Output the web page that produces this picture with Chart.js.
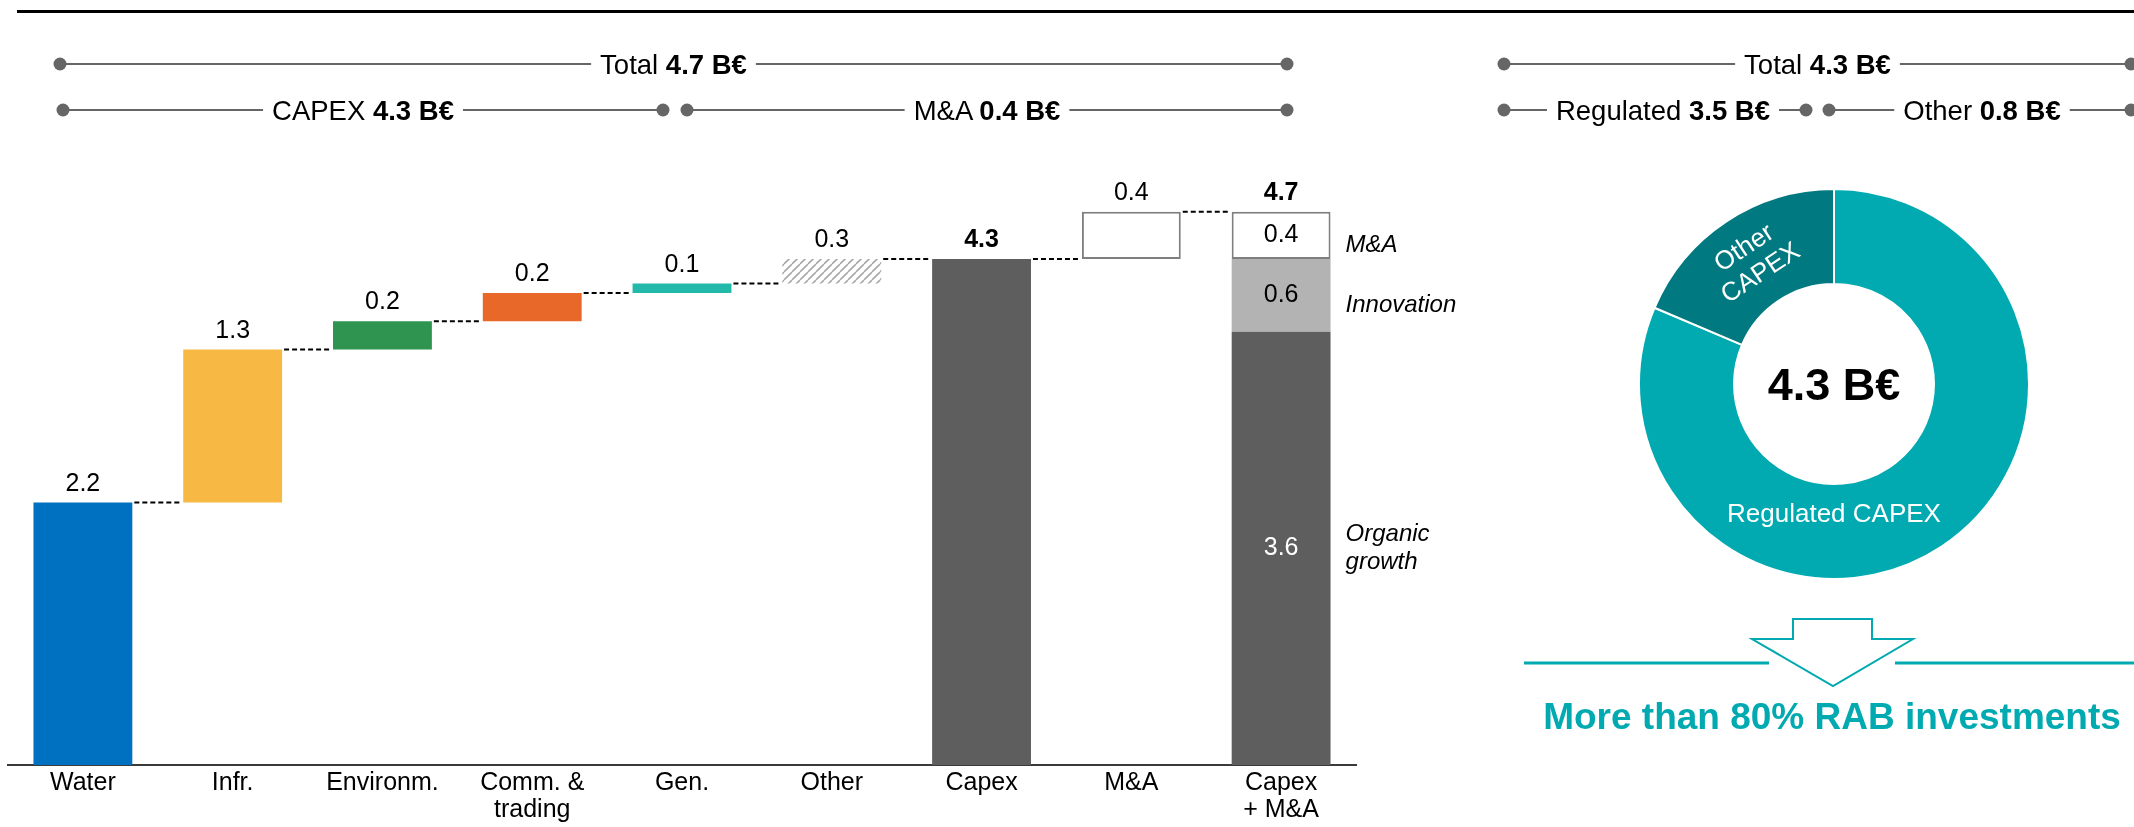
<!DOCTYPE html>
<html>
<head>
<meta charset="utf-8">
<script src="https://cdn.jsdelivr.net/npm/chart.js@4.4.1/dist/chart.umd.min.js"></script>
<style>
  html, body { margin: 0; padding: 0; background: #fff; }
  body { width: 2134px; height: 827px; position: relative; overflow: hidden; font-family: "Liberation Sans", Arial, sans-serif; }
  #waterfallBox { position: absolute; left: 0; top: 0; width: 1500px; height: 827px; }
  #donutBox { position: absolute; left: 1634px; top: 184px; width: 400px; height: 400px; }
  #notes { position: absolute; left: 0; top: 0; pointer-events: none; }
  #notes text { white-space: pre; font-family: "Liberation Sans", Arial, sans-serif; }
</style>
</head>
<body>
<div id="waterfallBox"><canvas id="waterfall"></canvas></div>
<div id="donutBox"><canvas id="donut"></canvas></div>
<svg id="notes" width="2134" height="827" xmlns="http://www.w3.org/2000/svg"></svg>

<script>
// --- data ---
const categories = ['Water', 'Infr.', 'Environm.', ['Comm. &', 'trading'], 'Gen.', 'Other', 'Capex', 'M&A', ['Capex', '+ M&A']];
const stepFrom = [0, 2.23, 3.53, 3.77, 4.01, 4.09, 0, 4.3, null];
const stepTo = [2.23, 3.53, 3.77, 4.01, 4.09, 4.3, 4.3, 4.7, null];
const stepLabels = ['2.2', '1.3', '0.2', '0.2', '0.1', '0.3', '4.3', '0.4', '4.7'];

// last column is split in three parts
const splitNames = ['Organic\ngrowth', 'Innovation', 'M&A'];
const splitFrom = [0, 3.68, 4.3];
const splitTo = [3.68, 4.3, 4.7];
const splitLabels = ['3.6', '0.6', '0.4'];

const donutNames = ['Regulated CAPEX', 'Other CAPEX'];
const donutValues = [3.5, 0.8];
const donutTotal = '4.3 B€';

const bracketNames = ['Total', 'CAPEX', 'M&A', 'Total', 'Regulated', 'Other'];
const bracketValues = ['4.7 B€', '4.3 B€', '0.4 B€', '4.3 B€', '3.5 B€', '0.8 B€'];
const message = 'More than 80% RAB investments';

// --- styling ---
const fontFamily = '"Liberation Sans", Arial, sans-serif';
const teal = '#00AAB0';
const lastIdx = categories.length - 1;
const totalCols = [6, 8];

Chart.defaults.font.family = fontFamily;
Chart.defaults.color = '#000';

function makeHatch() {
  const c = document.createElement('canvas');
  c.width = 8; c.height = 8;
  const g = c.getContext('2d');
  g.fillStyle = '#fff';
  g.fillRect(0, 0, 8, 8);
  g.strokeStyle = '#a8a8a8';
  g.lineWidth = 1.6;
  [-8, 0, 8].forEach(x => {
    g.beginPath(); g.moveTo(x, 8); g.lineTo(x + 8, 0); g.stroke();
  });
  return g.createPattern(c, 'repeat');
}

const stepColors = ['#0070C0', '#F8B944', '#2E9450', '#E8682A', '#22B8AA', makeHatch(), '#5E5E5E', '#FFFFFF', '#FFFFFF'];
const splitColors = ['#5E5E5E', '#B3B3B3', '#FFFFFF'];

const mainData = stepFrom.map((v, i) => v === null ? null : [v, stepTo[i]]);
const splitDatasets = splitFrom.map((v, k) => ({
  label: splitNames[k],
  data: categories.map((_, i) => i === lastIdx ? [v, splitTo[k]] : null),
  backgroundColor: splitColors[k],
  borderColor: '#7F7F7F',
  borderWidth: k === 2 ? 2 : 0,
  borderSkipped: false
}));

// connectors, value labels and side names for the waterfall
const waterfallDecor = {
  id: 'waterfallDecor',
  afterDatasetsDraw(chart) {
    const ctx = chart.ctx;
    const y = chart.scales.y;
    const bars = chart.getDatasetMeta(0).data;
    const splitBars = splitFrom.map((_, k) => chart.getDatasetMeta(k + 1).data[lastIdx]);
    const colEl = i => i === lastIdx ? splitBars[0] : bars[i];
    const colTop = i => i === lastIdx ? splitTo[splitTo.length - 1] : Math.max(stepFrom[i], stepTo[i]);

    ctx.save();
    ctx.strokeStyle = '#000';
    ctx.lineWidth = 2;
    ctx.setLineDash([5, 3]);
    for (let i = 0; i < lastIdx; i++) {
      const a = colEl(i), b = colEl(i + 1);
      const py = y.getPixelForValue(stepTo[i]);
      ctx.beginPath();
      ctx.moveTo(a.x + a.width / 2 + 2, py);
      ctx.lineTo(b.x - b.width / 2 - 2, py);
      ctx.stroke();
    }
    ctx.setLineDash([]);

    ctx.textAlign = 'center';
    ctx.textBaseline = 'alphabetic';
    ctx.fillStyle = '#000';
    categories.forEach((_, i) => {
      ctx.font = (totalCols.includes(i) ? 'bold ' : '') + '25px ' + fontFamily;
      ctx.fillText(stepLabels[i], colEl(i).x, y.getPixelForValue(colTop(i)) - 12);
    });

    splitBars.forEach((el, k) => {
      const mid = (y.getPixelForValue(splitFrom[k]) + y.getPixelForValue(splitTo[k])) / 2;
      ctx.textBaseline = 'middle';
      ctx.textAlign = 'center';
      ctx.font = '25px ' + fontFamily;
      ctx.fillStyle = k === 0 ? '#fff' : '#000';
      ctx.fillText(splitLabels[k], el.x, mid);

      ctx.textAlign = 'left';
      ctx.font = 'italic 24px ' + fontFamily;
      ctx.fillStyle = '#000';
      const lines = splitNames[k].split('\n');
      const shift = lines.length > 1 ? 0 : 10;
      lines.forEach((ln, j) => {
        ctx.fillText(ln, el.x + el.width / 2 + 15, mid + shift + (j - (lines.length - 1) / 2) * 28);
      });
    });
    ctx.restore();
  }
};

new Chart(document.getElementById('waterfall'), {
  type: 'bar',
  data: {
    labels: categories,
    datasets: [{
      label: 'Capex',
      data: mainData,
      backgroundColor: stepColors,
      borderColor: '#7F7F7F',
      borderWidth: stepColors.map((_, i) => i === 7 ? 2 : 0),
      borderSkipped: false
    }, ...splitDatasets]
  },
  options: {
    responsive: true,
    maintainAspectRatio: false,
    animation: false,
    grouped: false,
    categoryPercentage: 1,
    barPercentage: 0.66,
    layout: { padding: { left: 8, right: 144, top: 117.65, bottom: 0 } },
    plugins: {
      legend: { display: false },
      tooltip: { enabled: false }
    },
    scales: {
      x: {
        grid: { display: false, drawTicks: false },
        border: { display: true, color: '#3a3a3a', width: 2 },
        ticks: {
          color: '#000',
          font: { size: 25, lineHeight: 1.1 },
          padding: 4,
          maxRotation: 0,
          autoSkip: false
        },
        afterFit(scale) { scale.height = 62; }
      },
      y: {
        display: false,
        stacked: false,
        min: 0,
        max: 5.5
      }
    }
  },
  plugins: [waterfallDecor]
});

// texts inside the doughnut
const donutText = {
  id: 'donutText',
  afterDatasetsDraw(chart) {
    const ctx = chart.ctx;
    const arcs = chart.getDatasetMeta(0).data;
    const reg = arcs[0], oth = arcs[1];
    const cx = reg.x, cy = reg.y;
    ctx.save();
    ctx.textAlign = 'center';
    ctx.textBaseline = 'alphabetic';
    ctx.fillStyle = '#000';
    ctx.font = 'bold 45px ' + fontFamily;
    ctx.fillText(donutTotal, cx, cy + 16);

    ctx.fillStyle = '#fff';
    ctx.font = '26px ' + fontFamily;
    ctx.fillText(donutNames[0], cx, cy + reg.innerRadius + 0.4 * (reg.outerRadius - reg.innerRadius));

    const mid = (oth.startAngle + oth.endAngle) / 2;
    const r = (oth.innerRadius + oth.outerRadius) / 2;
    ctx.translate(cx + r * Math.cos(mid), cy + r * Math.sin(mid));
    ctx.rotate(mid + Math.PI / 2);
    ctx.textBaseline = 'middle';
    const words = donutNames[1].split(' ');
    words.forEach((w, j) => ctx.fillText(w, 0, (j - (words.length - 1) / 2) * 30));
    ctx.restore();
  }
};

new Chart(document.getElementById('donut'), {
  type: 'doughnut',
  data: {
    labels: donutNames,
    datasets: [{
      data: donutValues,
      backgroundColor: [teal, '#007A80'],
      borderColor: '#fff',
      borderWidth: 2
    }]
  },
  options: {
    responsive: true,
    maintainAspectRatio: false,
    animation: false,
    radius: 195,
    cutout: 102,
    plugins: {
      legend: { display: false },
      tooltip: { enabled: false }
    }
  },
  plugins: [donutText]
});

// --- annotations: rule, brackets, arrow, message ---
const svg = document.getElementById('notes');
const NS = 'http://www.w3.org/2000/svg';
function add(tag, attrs, parent) {
  const el = document.createElementNS(NS, tag);
  Object.entries(attrs).forEach(([k, v]) => el.setAttribute(k, v));
  (parent || svg).appendChild(el);
  return el;
}

add('rect', { x: 17, y: 10, width: 2117, height: 3, fill: '#000' });

const bracketLayout = [
  { x1: 60, x2: 1287, y: 64 },
  { x1: 63, x2: 663, y: 110 },
  { x1: 687, x2: 1287, y: 110 },
  { x1: 1504, x2: 2131, y: 64 },
  { x1: 1504, x2: 1806, y: 110, cx: 1663 },
  { x1: 1829, x2: 2131, y: 110, cx: 1982 }
];

bracketLayout.forEach((b, i) => {
  const cx = b.cx || (b.x1 + b.x2) / 2;
  const t = add('text', { x: cx, y: b.y + 10, 'text-anchor': 'middle', 'font-size': '27.5px', fill: '#000' });
  t.appendChild(document.createTextNode(bracketNames[i] + ' '));
  const bold = add('tspan', { 'font-weight': 'bold' }, t);
  bold.textContent = bracketValues[i];
  const box = t.getBBox();
  add('line', { x1: b.x1, y1: b.y, x2: box.x - 9, y2: b.y, stroke: '#666', 'stroke-width': 2 });
  add('line', { x1: box.x + box.width + 9, y1: b.y, x2: b.x2, y2: b.y, stroke: '#666', 'stroke-width': 2 });
  add('circle', { cx: b.x1, cy: b.y, r: 6.5, fill: '#666' });
  add('circle', { cx: b.x2, cy: b.y, r: 6.5, fill: '#666' });
});

add('line', { x1: 1524, y1: 663, x2: 1769, y2: 663, stroke: teal, 'stroke-width': 3 });
add('line', { x1: 1895, y1: 663, x2: 2134, y2: 663, stroke: teal, 'stroke-width': 3 });
add('polygon', {
  points: '1793,619 1872,619 1872,639 1913,639 1833,686 1752,639 1793,639',
  fill: '#fff', stroke: teal, 'stroke-width': 2
});
const msg = add('text', { x: 1832, y: 729, 'text-anchor': 'middle', 'font-size': '37px', 'font-weight': 'bold', fill: teal });
msg.textContent = message;
</script>
</body>
</html>
